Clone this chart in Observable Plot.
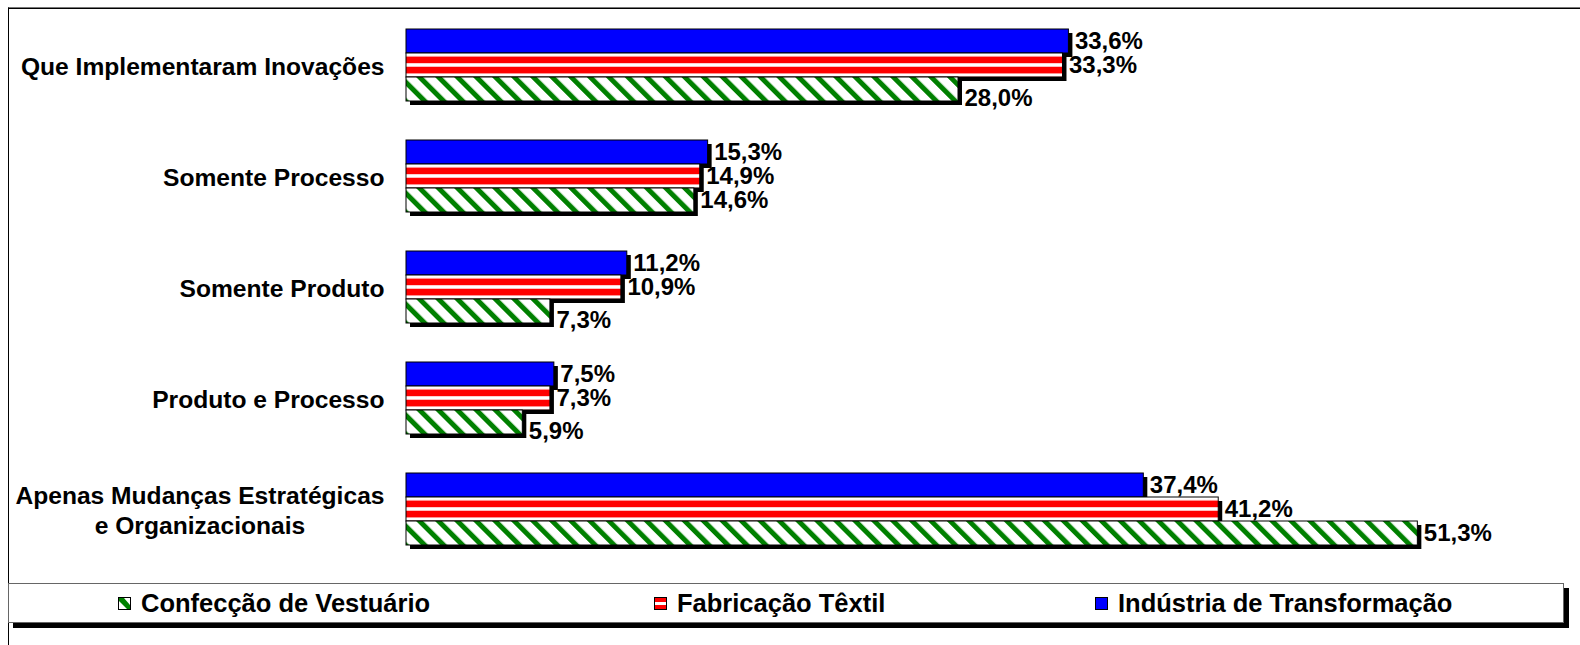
<!DOCTYPE html>
<html>
<head>
<meta charset="utf-8">
<script src="https://cdn.jsdelivr.net/npm/d3@7"></script>
<script src="https://cdn.jsdelivr.net/npm/@observablehq/plot@0.6"></script>
<style>
  body { margin: 0; background: #fff; font-family: "Liberation Sans", Arial, sans-serif; }
  #wrap { position: relative; width: 1580px; height: 645px; overflow: hidden; background: #fff; }
  #frame { position: absolute; left: 8px; top: 7px; width: 1600px; height: 700px;
           border-left: 1px solid #000; border-top: 1px solid #777; box-shadow: inset 0 1px 0 #000; }
  #chart { position: absolute; left: 0; top: 0; }
  #legend { position: absolute; left: 8px; top: 583px; width: 1554px; height: 38px;
            border: 1px solid #666; box-shadow: 5px 5px 0 #000; background: #fff; }
  .item { position: absolute; top: 0; height: 38px; display: flex; align-items: center;
          font-weight: bold; font-size: 25.5px; color: #000; white-space: nowrap; }
  .item svg { margin-right: 10px; display: block; }
</style>
</head>
<body>
<div id="wrap">
  <div id="frame"></div>
  <div id="chart"></div>
  <div id="legend"></div>
</div>
<script>
// ---- data ----
const categories = [
  "Que Implementaram Inovações",
  "Somente Processo",
  "Somente Produto",
  "Produto e Processo",
  "Apenas Mudanças Estratégicas\ne Organizacionais"
];
const series = ["Indústria de Transformação", "Fabricação Têxtil", "Confecção de Vestuário"];
const industriaValues = [33.6, 15.3, 11.2, 7.5, 37.4];
const textilValues    = [33.3, 14.9, 10.9, 7.3, 41.2];
const vestuarioValues = [28.0, 14.6, 7.3, 5.9, 51.3];
const legendOrder = ["Confecção de Vestuário", "Fabricação Têxtil", "Indústria de Transformação"];

const valuesBySeries = {
  "Indústria de Transformação": industriaValues,
  "Fabricação Têxtil": textilValues,
  "Confecção de Vestuário": vestuarioValues
};
const rows = [];
categories.forEach((c, i) => {
  series.forEach(s => rows.push({category: c, series: s, value: valuesBySeries[s][i], idx: i}));
});

const fills = {
  "Indústria de Transformação": "#0000ff",
  "Fabricação Têxtil": "url(#redStripes)",
  "Confecção de Vestuário": "url(#greenDiag)"
};
const fmt = v => v.toFixed(1).replace(".", ",") + "%";
const font = "Liberation Sans, Arial, sans-serif";

const marks = [];
series.forEach(s => {
  const d = rows.filter(r => r.series === s);
  marks.push(Plot.barX(d, {x: "value", y: "series", fy: "category", fill: "#000", dx: 4, dy: 4}));
  marks.push(Plot.barX(d, {x: "value", y: "series", fy: "category", fill: fills[s], stroke: "#000", strokeWidth: 1}));
});
// value labels
const labelOpts = {x: "value", y: "series", fy: "category", text: d => fmt(d.value),
  textAnchor: "start", dx: 6, fontSize: 24, fontWeight: "bold", fontFamily: font, fill: "#000"};
marks.push(Plot.text(rows.filter(r => r.series !== "Confecção de Vestuário"), labelOpts));
// green labels nudged down when the bar above is clearly longer (as in the original)
const green = rows.filter(r => r.series === "Confecção de Vestuário");
marks.push(Plot.text(green.filter(r => textilValues[r.idx] - r.value > 1), {...labelOpts, dy: 9}));
marks.push(Plot.text(green.filter(r => !(textilValues[r.idx] - r.value > 1)), labelOpts));
// category labels
marks.push(Plot.text(categories, {fy: d => d, text: d => d, frameAnchor: "left", textAnchor: "end",
  dx: -22, dy: 0, fontSize: 24.6, fontWeight: "bold", fontFamily: font, lineHeight: 1.2, fill: "#000"}));

const plot = Plot.plot({
  width: 1580,
  height: 578,
  marginLeft: 406,
  marginRight: 1,
  marginTop: 7,
  marginBottom: 11,
  style: {background: "none", overflow: "visible", fontFamily: font},
  x: {domain: [0, 59.5], axis: null},
  y: {domain: series, padding: 0, axis: null},
  fy: {domain: categories, paddingInner: 0.333, paddingOuter: 0.1667, axis: null, label: null},
  marks
});
document.getElementById("chart").appendChild(plot);

// patterns
const svg = d3.select(plot);
const defs = svg.insert("defs", ":first-child");
const red = defs.append("pattern").attr("id", "redStripes")
  .attr("patternUnits", "objectBoundingBox").attr("patternContentUnits", "userSpaceOnUse")
  .attr("x", 0).attr("y", 0).attr("width", 1).attr("height", 0.4257);
red.append("rect").attr("x", 0).attr("y", 0).attr("width", 3000).attr("height", 20).attr("fill", "#fff");
red.append("rect").attr("x", 0).attr("y", 3.5).attr("width", 3000).attr("height", 7).attr("fill", "#ff0000");
const gr = defs.append("pattern").attr("id", "greenDiag")
  .attr("patternUnits", "userSpaceOnUse").attr("width", 13.4).attr("height", 13.4)
  .attr("patternTransform", "rotate(-45)");
gr.append("rect").attr("width", 13.4).attr("height", 13.4).attr("fill", "#fff");
gr.append("rect").attr("width", 5).attr("height", 13.4).attr("fill", "#008000");

// center the lines of multi-line category labels within their right-aligned block
svg.selectAll("text").each(function() {
  const tspans = d3.select(this).selectAll("tspan").nodes();
  if (tspans.length > 1) {
    const w = tspans.map(t => t.getComputedTextLength());
    const maxW = Math.max(...w);
    d3.select(this).attr("text-anchor", "middle");
    tspans.forEach(t => t.setAttribute("x", -maxW / 2));
  }
});

// legend
const swatches = {
  "Confecção de Vestuário": `<svg width="13" height="13"><rect x="0.5" y="0.5" width="12" height="12" fill="#fff" stroke="#000"/><polygon points="1,1 6,1 12,8 12,12 9,12 1,4" fill="#008000"/><rect x="0.5" y="0.5" width="12" height="12" fill="none" stroke="#000"/></svg>`,
  "Fabricação Têxtil": `<svg width="13" height="13"><rect x="0.5" y="0.5" width="12" height="12" fill="#ff0000" stroke="#000"/><rect x="1" y="5" width="11" height="3" fill="#fff"/></svg>`,
  "Indústria de Transformação": `<svg width="13" height="13"><rect x="0.5" y="0.5" width="12" height="12" fill="#0000ff" stroke="#000"/></svg>`
};
const itemLeft = [109, 645, 1086];
const legend = document.getElementById("legend");
legendOrder.forEach((s, i) => {
  const div = document.createElement("div");
  div.className = "item";
  div.style.left = itemLeft[i] + "px";
  div.innerHTML = swatches[s] + `<span>${s}</span>`;
  legend.appendChild(div);
});
</script>
</body>
</html>
